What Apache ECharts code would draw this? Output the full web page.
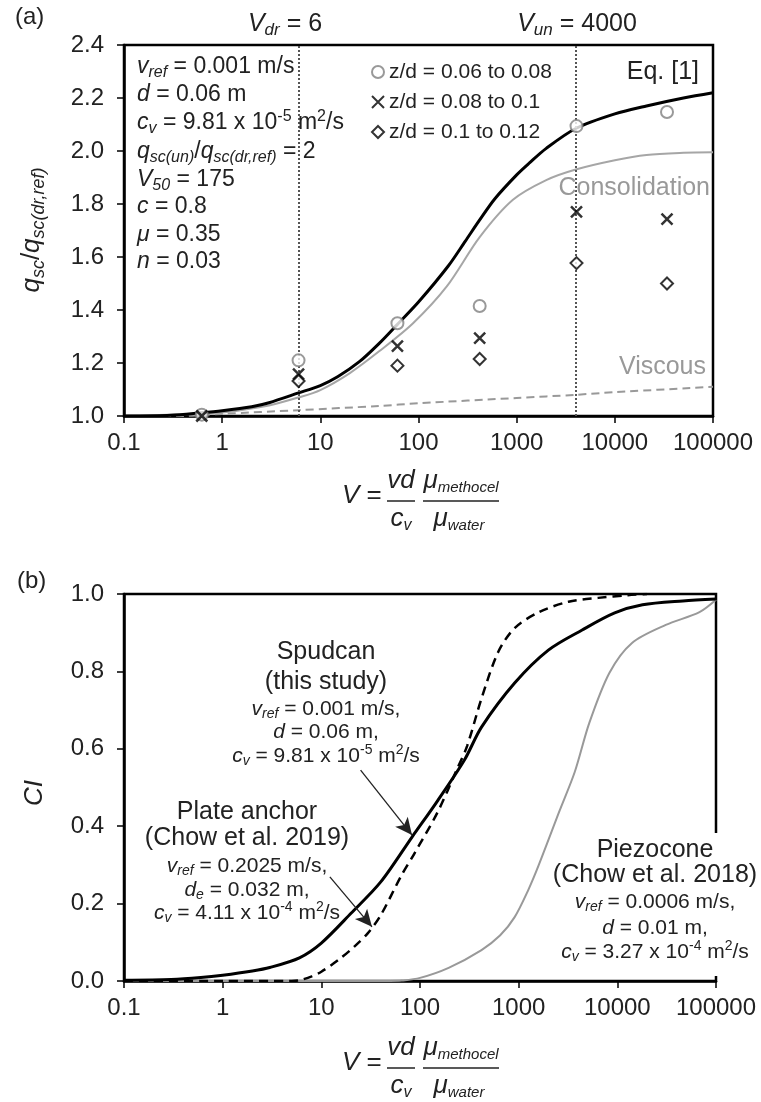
<!DOCTYPE html>
<html>
<head>
<meta charset="utf-8">
<script src="https://cdn.jsdelivr.net/npm/echarts@6/dist/echarts.min.js"></script>
<style>
  html, body { margin: 0; padding: 0; background: #fff; }
  #chart { width: 761px; height: 1102px; }
</style>
</head>
<body>
<div id="chart"></div>
<script>
// ---- data ----
const vTicks = [0.1, 1, 10, 100, 1000, 10000, 100000]
const qTicks = [1.0, 1.2, 1.4, 1.6, 1.8, 2.0, 2.2, 2.4]
const ciTicks = [0.0, 0.2, 0.4, 0.6, 0.8, 1.0]

// (a) test points, V and q_sc/q_sc(dr,ref)
const testV = [0.62, 6, 61, 420, 4070, 34000]
const zd006 = [1.005, 1.21, 1.35, 1.415, 2.094, 2.147]
const zd008 = [1.0, 1.158, 1.264, 1.294, 1.77, 1.743]
const zd010 = [0.99, 1.132, 1.19, 1.215, 1.577, 1.50]
const legendNames = ['z/d = 0.06 to 0.08', 'z/d = 0.08 to 0.1', 'z/d = 0.1 to 0.12']

// (a) curves
const eqV = [0.1, 0.3, 0.6, 1, 2, 3, 6, 10, 15, 25, 40, 60, 100, 200, 300, 420, 600, 1000, 1350, 2000, 4000, 10000, 21000, 50000, 100000]
const eqQ = [1.0, 1.003, 1.012, 1.02, 1.035, 1.05, 1.087, 1.115, 1.148, 1.205, 1.275, 1.343, 1.43, 1.565, 1.66, 1.74, 1.82, 1.91, 1.955, 2.01, 2.085, 2.14, 2.17, 2.2, 2.22]
const conV = [0.1, 0.6, 1, 3, 6, 10, 20, 40, 88, 195, 420, 910, 2000, 4000, 10000, 21000, 50000, 100000]
const conQ = [1.0, 1.008, 1.013, 1.04, 1.07, 1.098, 1.162, 1.245, 1.35, 1.49, 1.675, 1.815, 1.89, 1.93, 1.965, 1.985, 1.993, 1.995]
const visV = [0.1, 0.4, 0.6, 1, 6, 40, 100, 1000, 4000, 10000, 100000]
const visQ = [1.0, 1.0, 1.003, 1.008, 1.022, 1.038, 1.048, 1.068, 1.08, 1.09, 1.11]
const vLines = [6, 4000] // V_dr and V_un

// (b) curves, V and CI
const spuV = [0.1, 0.3, 0.6, 1, 2, 3, 6, 10, 20, 40, 83, 150, 282, 420, 910, 2000, 4400, 9400, 18000, 46000, 100000]
const spuCI = [0.002, 0.004, 0.009, 0.015, 0.026, 0.035, 0.06, 0.098, 0.175, 0.256, 0.372, 0.465, 0.571, 0.656, 0.77, 0.855, 0.907, 0.951, 0.972, 0.982, 0.987]
const plaV = [0.1, 1, 5, 6, 8, 10, 15, 21.6, 29.5, 40, 64, 88, 150, 235, 300, 420, 620, 910, 1600, 3200, 6400, 12800, 20000]
const plaCI = [0, 0, 0, 0.002, 0.012, 0.024, 0.055, 0.089, 0.123, 0.17, 0.27, 0.33, 0.435, 0.545, 0.607, 0.73, 0.85, 0.912, 0.953, 0.98, 0.99, 0.997, 1.0]
const pieV = [0.1, 50, 65, 100, 195, 420, 650, 910, 1250, 1600, 2600, 3700, 5200, 8300, 14000, 31000, 68000, 100000]
const pieCI = [0, 0, 0.001, 0.008, 0.034, 0.08, 0.118, 0.165, 0.235, 0.3, 0.44, 0.54, 0.667, 0.796, 0.873, 0.92, 0.953, 0.985]
const spudArrow = [[25, 0.545], [83, 0.377]]
const plateArrow = [[12.2, 0.269], [32.6, 0.14]]

// ---- helpers ----
const FONT = '"Liberation Sans", Arial, Helvetica, sans-serif'
const INK = '#222'
const GREY = '#999'

const zip = (xs, ys) => xs.map((x, i) => [x, ys[i]])

function richSet(size, color, subSize) {
  const small = subSize || Math.round(size * 0.68)
  const shift = Math.round(size * 0.5)
  const base = { fontSize: size, fontFamily: FONT, fill: color }
  return {
    n: base,
    i: Object.assign({}, base, { fontStyle: 'italic' }),
    sb: { fontSize: small, fontFamily: FONT, fill: color, fontStyle: 'italic', padding: [shift, 0, 0, 0] },
    sp: { fontSize: small, fontFamily: FONT, fill: color, padding: [0, 0, shift, 0] },
  }
}

function txt(x, y, text, size, align, color, extra, subSize) {
  color = color || INK
  return Object.assign({
    type: 'text', x: x, y: y, z: 110, silent: true,
    style: {
      text: text, rich: richSet(size, color, subSize), fill: color,
      font: size + 'px ' + FONT,
      textAlign: align, align: align,
      textVerticalAlign: 'middle', verticalAlign: 'middle',
    },
  }, extra || {})
}

function bar(x1, x2, y) {
  return { type: 'line', z: 110, silent: true, shape: { x1: x1, y1: y, x2: x2, y2: y }, style: { stroke: INK, lineWidth: 1.5 } }
}

// V = vd/c_v * mu_methocel/mu_water
function vLabel(dy) {
  return [
    txt(342, 496 + dy, '{i|V}{n| =}', 26, 'left'),
    txt(401, 481 + dy, '{i|vd}', 26, 'center'),
    bar(387, 415, 501 + dy),
    txt(401, 519 + dy, '{i|c}{sb|v}', 26, 'center', INK, null, 16),
    txt(461, 481 + dy, '{i|μ}{sb|methocel}', 26, 'center', INK, null, 15),
    bar(423, 499, 501 + dy),
    txt(459, 519 + dy, '{i|μ}{sb|water}', 26, 'center', INK, null, 15),
  ]
}

function xAxisFor(grid) {
  return {
    type: 'log', logBase: 10, gridIndex: grid,
    min: vTicks[0], max: vTicks[vTicks.length - 1], splitNumber: vTicks.length - 1,
    axisLine: { onZero: false, lineStyle: { color: '#000', width: 2.5 } },
    axisTick: { show: true, length: 7, lineStyle: { color: '#000', width: 1.5 } },
    minorTick: { show: false },
    splitLine: { show: false },
    axisLabel: {
      fontSize: 24, fontFamily: FONT, color: INK, margin: 15,
      showMinLabel: true, showMaxLabel: true,
      formatter: (v) => String(+(+v).toPrecision(6)),
    },
  }
}

function yAxisFor(grid, ticks) {
  return {
    type: 'value', gridIndex: grid,
    min: ticks[0], max: ticks[ticks.length - 1], interval: +(ticks[1] - ticks[0]).toFixed(3),
    axisLine: { show: true, onZero: false, lineStyle: { color: '#000', width: 2.5 } },
    axisTick: { show: true, length: 7, lineStyle: { color: '#000', width: 1.5 } },
    splitLine: { show: false },
    axisLabel: { fontSize: 24, fontFamily: FONT, color: INK, margin: 20, formatter: (v) => v.toFixed(1) },
  }
}

function curve(name, grid, data, color, width, type, z) {
  return {
    name: name, type: 'line', xAxisIndex: grid, yAxisIndex: grid,
    data: data, showSymbol: false, symbol: 'none',
    smooth: 0.3, z: z || 2,
    lineStyle: { color: color, width: width, type: type || 'solid' },
    silent: true,
  }
}

// ---- chart ----
const myChart = echarts.init(document.getElementById('chart'), null, { renderer: 'canvas' })

const eqSeries = curve('Eq. [1]', 0, zip(eqV, eqQ), '#000', 3, 'solid', 4)
eqSeries.markLine = {
  silent: true, animation: false, symbol: ['none', 'none'],
  label: { show: false },
  lineStyle: { color: '#555', type: 'dotted', width: 2 },
  data: vLines.map((v) => ({ xAxis: v })),
}

const spudSeries = curve('Spudcan', 1, zip(spuV, spuCI), '#000', 3, 'solid', 4)
spudSeries.markLine = {
  silent: true, animation: false,
  symbol: ['none', 'arrow'], symbolSize: [12, 17],
  label: { show: false },
  lineStyle: { color: '#222', width: 1.3, type: 'solid' },
  data: [
    [{ coord: spudArrow[0] }, { coord: spudArrow[1] }],
    [{ coord: plateArrow[0] }, { coord: plateArrow[1] }],
  ],
}

const option = {
  animation: false,
  backgroundColor: '#fff',
  textStyle: { fontFamily: FONT },
  grid: [
    { left: 124, top: 45, width: 589, height: 371, show: true, borderColor: '#000', borderWidth: 2.5 },
    { left: 124, top: 594, width: 592, height: 387, show: true, borderColor: '#000', borderWidth: 2.5 },
  ],
  xAxis: [xAxisFor(0), xAxisFor(1)],
  yAxis: [yAxisFor(0, qTicks), yAxisFor(1, ciTicks)],
  legend: {
    data: legendNames,
    orient: 'vertical', left: 366, top: 56,
    itemWidth: 12, itemHeight: 12, itemGap: 8,
    selectedMode: false,
    textStyle: { fontSize: 21, fontFamily: FONT, color: INK, lineHeight: 22 },
  },
  series: [
    curve('Viscous', 0, zip(visV, visQ), '#999', 2, [8, 5], 2),
    curve('Consolidation', 0, zip(conV, conQ), '#a6a6a6', 2, 'solid', 3),
    eqSeries,
    {
      name: legendNames[0], type: 'scatter', xAxisIndex: 0, yAxisIndex: 0, z: 6,
      data: zip(testV, zd006), symbol: 'emptyCircle', symbolSize: 12,
      itemStyle: { color: '#7f7f7f', borderWidth: 2 },
    },
    {
      name: legendNames[1], type: 'scatter', xAxisIndex: 0, yAxisIndex: 0, z: 6,
      data: zip(testV, zd008), symbol: 'path://M0,0L10,10M10,0L0,10', symbolSize: 11,
      itemStyle: { color: 'rgba(0,0,0,0)', borderColor: '#000', borderWidth: 2.5 },
    },
    {
      name: legendNames[2], type: 'scatter', xAxisIndex: 0, yAxisIndex: 0, z: 6,
      data: zip(testV, zd010), symbol: 'emptyDiamond', symbolSize: 12,
      itemStyle: { color: '#000', borderWidth: 2 },
    },
    curve('Piezocone', 1, zip(pieV, pieCI), '#999', 2, 'solid', 2),
    curve('Plate anchor', 1, zip(plaV, plaCI), '#000', 2.5, [9, 6], 3),
    spudSeries,
  ],
  graphic: [
    // panel (a)
    txt(15, 17, '{n|(a)}', 24, 'left'),
    txt(285, 24, '{i|V}{sb|dr}{n| = 6}', 25, 'center'),
    txt(577, 24, '{i|V}{sb|un}{n| = 4000}', 25, 'center'),
    txt(137, 67, '{i|v}{sb|ref}{n| = 0.001 m/s}', 23, 'left'),
    txt(137, 95, '{i|d}{n| = 0.06 m}', 23, 'left'),
    txt(137, 123, '{i|c}{sb|v}{n| = 9.81 x 10}{sp|-5}{n| m}{sp|2}{n|/s}', 23, 'left'),
    txt(137, 152, '{i|q}{sb|sc(un)}{n|/}{i|q}{sb|sc(dr,ref)}{n| = 2}', 23, 'left'),
    txt(137, 180, '{i|V}{sb|50}{n| = 175}', 23, 'left'),
    txt(137, 207, '{i|c}{n| = 0.8}', 23, 'left'),
    txt(137, 235, '{i|μ}{n| = 0.35}', 23, 'left'),
    txt(137, 262, '{i|n}{n| = 0.03}', 23, 'left'),
    txt(699, 72, '{n|Eq. [1]}', 25, 'right'),
    txt(710, 188, '{n|Consolidation}', 25, 'right', GREY),
    txt(706, 367, '{n|Viscous}', 25, 'right', GREY),
    txt(32, 230, '{i|q}{sb|sc}{n|/}{i|q}{sb|sc(dr,ref)}', 26, 'center', INK, { rotation: Math.PI / 2 }),
    ...vLabel(0),

    // panel (b)
    txt(17, 581, '{n|(b)}', 24, 'left'),
    txt(35, 793, '{i|CI}', 26, 'center', INK, { rotation: Math.PI / 2 }),
    txt(326, 652, '{n|Spudcan}', 25, 'center'),
    txt(326, 682, '{n|(this study)}', 25, 'center'),
    txt(326, 709, '{i|v}{sb|ref}{n| = 0.001 m/s,}', 21, 'center'),
    txt(326, 732, '{i|d}{n| = 0.06 m,}', 21, 'center'),
    txt(326, 756, '{i|c}{sb|v}{n| = 9.81 x 10}{sp|-5}{n| m}{sp|2}{n|/s}', 21, 'center'),
    txt(247, 812, '{n|Plate anchor}', 25, 'center'),
    txt(247, 838, '{n|(Chow et al. 2019)}', 25, 'center'),
    txt(247, 866, '{i|v}{sb|ref}{n| = 0.2025 m/s,}', 21, 'center'),
    txt(247, 890, '{i|d}{sb|e}{n| = 0.032 m,}', 21, 'center'),
    txt(247, 913, '{i|c}{sb|v}{n| = 4.11 x 10}{sp|-4}{n| m}{sp|2}{n|/s}', 21, 'center'),
    {
      type: 'rect', z: 105, silent: true,
      shape: { x: 556, y: 833, width: 205, height: 143 },
      style: { fill: '#fff' },
    },
    txt(655, 850, '{n|Piezocone}', 25, 'center'),
    txt(655, 875, '{n|(Chow et al. 2018)}', 25, 'center'),
    txt(655, 902, '{i|v}{sb|ref}{n| = 0.0006 m/s,}', 21, 'center'),
    txt(655, 928, '{i|d}{n| = 0.01 m,}', 21, 'center'),
    txt(655, 952, '{i|c}{sb|v}{n| = 3.27 x 10}{sp|-4}{n| m}{sp|2}{n|/s}', 21, 'center'),
    ...vLabel(567),
  ],
}

myChart.setOption(option)
</script>
</body>
</html>
